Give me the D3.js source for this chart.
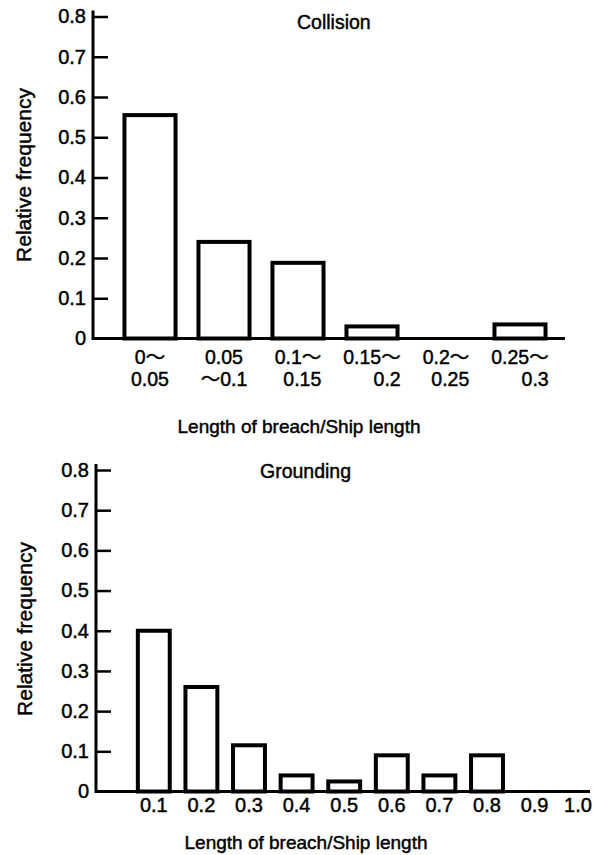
<!DOCTYPE html>
<html>
<head>
<meta charset="utf-8">
<script src="https://cdn.jsdelivr.net/npm/d3@7"></script>
<style>
  body { margin: 0; background: #fff; }
  text { font-family: "Liberation Sans", Arial, "Noto Sans CJK JP", sans-serif; fill: #000;
         stroke: #000; stroke-width: 0.45px; }
</style>
</head>
<body>
<svg id="chart" width="593" height="855"></svg>
<script>
// Collision: breach length ranges (two-line labels) and relative frequencies
const collisionCategories = ["0-0.05", "0.05-0.1", "0.1-0.15", "0.15-0.2", "0.2-0.25", "0.25-0.3"];
const collisionLabelTop = ["0～", "0.05", "0.1～", "0.15～", "0.2～", "0.25～"];
const collisionLabelBottom = ["0.05", "～0.1", "0.15", "0.2", "0.25", "0.3"];
const collisionFreq = [0.555, 0.24, 0.188, 0.03, 0, 0.035];

// Grounding: breach length classes and relative frequencies
const groundingCategories = ["0.1", "0.2", "0.3", "0.4", "0.5", "0.6", "0.7", "0.8", "0.9", "1.0"];
const groundingFreq = [0.40, 0.26, 0.115, 0.04, 0.025, 0.09, 0.04, 0.09, 0, 0];

// Shared y-axis ticks
const yTicks = [0, 0.1, 0.2, 0.3, 0.4, 0.5, 0.6, 0.7, 0.8];

const svg = d3.select("#chart");
const fmt = d => d === 0 ? "0" : d.toFixed(1);

function drawPanel(cfg) {
  const g = svg.append("g");
  const y = d3.scaleLinear().domain([0, 0.8]).range([cfg.yBottom, cfg.yTop]);
  const x = d3.scaleBand()
    .domain(cfg.categories)
    .range(cfg.xRange)
    .paddingInner(cfg.padInner)
    .paddingOuter(cfg.padInner / 2);

  // y axis: ticks point inward, labels on the left
  const ax = g.append("g")
    .attr("transform", `translate(${cfg.axisX},0)`)
    .call(d3.axisLeft(y).tickValues(yTicks).tickFormat(fmt)
      .tickSizeInner(-15).tickSizeOuter(0).tickPadding(7));
  ax.select(".domain").remove();
  ax.selectAll(".tick line").attr("stroke", "#000").attr("stroke-width", 2.5)
    .filter(d => d === 0).remove();
  ax.selectAll(".tick text").style("font-size", "20px").attr("fill", "#000");
  g.append("line")
    .attr("x1", cfg.axisX).attr("x2", cfg.axisX)
    .attr("y1", y(0) + 1.5).attr("y2", y(0.8) - 6)
    .attr("stroke", "#000").attr("stroke-width", 3);

  // bars
  const data = cfg.categories.map((c, i) => ({ c, v: cfg.values[i] })).filter(d => d.v > 0);
  g.selectAll("rect.bar").data(data).join("rect")
    .attr("class", "bar")
    .attr("x", d => x(d.c))
    .attr("y", d => y(d.v))
    .attr("width", x.bandwidth())
    .attr("height", d => y(0) - y(d.v))
    .attr("fill", "#fff")
    .attr("stroke", "#000")
    .attr("stroke-width", 4);

  // baseline
  g.append("line")
    .attr("x1", cfg.axisX).attr("x2", cfg.baselineEnd)
    .attr("y1", y(0)).attr("y2", y(0))
    .attr("stroke", "#000").attr("stroke-width", 3);

  // title
  g.append("text")
    .attr("x", cfg.titleX).attr("y", cfg.titleY)
    .style("font-size", "19.5px")
    .text(cfg.title);

  // axis titles
  g.append("text")
    .attr("x", cfg.xLabelX).attr("y", cfg.xLabelY)
    .attr("text-anchor", "middle")
    .style("font-size", "19px")
    .text("Length of breach/Ship length");
  g.append("text")
    .attr("transform", `translate(${cfg.yLabelX},${cfg.yLabelY}) rotate(-90)`)
    .attr("text-anchor", "middle")
    .style("font-size", "21px")
    .text("Relative frequency");

  return { g, x, y };
}

// Collision panel
const collisionPanel = drawPanel({
  categories: collisionCategories, values: collisionFreq,
  yBottom: 338.5, yTop: 16.5, xRange: [113, 557], padInner: 0.31,
  axisX: 93, baselineEnd: 565,
  title: "Collision", titleX: 297, titleY: 29,
  xLabelX: 299, xLabelY: 433, yLabelX: 31, yLabelY: 175
});
collisionCategories.forEach((c, i) => {
  const cx = collisionPanel.x(c) + collisionPanel.x.bandwidth() / 2;
  const t1 = collisionPanel.g.append("text").attr("x", cx).attr("y", 364)
    .attr("text-anchor", "middle").style("font-size", "19.5px")
    .text(collisionLabelTop[i]);
  const w1 = t1.node().getComputedTextLength();
  const t2 = collisionPanel.g.append("text").attr("y", 386).style("font-size", "19.5px")
    .text(collisionLabelBottom[i]);
  const w2 = t2.node().getComputedTextLength();
  if (w2 < w1 - 6) {
    t2.attr("x", cx + w1 / 2).attr("text-anchor", "end");
  } else {
    t2.attr("x", cx).attr("text-anchor", "middle");
  }
});

// Grounding panel
const groundingPanel = drawPanel({
  categories: groundingCategories, values: groundingFreq,
  yBottom: 791.5, yTop: 470, xRange: [130, 606], padInner: 0.33,
  axisX: 96, baselineEnd: 590,
  title: "Grounding", titleX: 260, titleY: 478,
  xLabelX: 306, xLabelY: 849, yLabelX: 32, yLabelY: 629
});
groundingPanel.g.selectAll("text.xtick").data(groundingCategories).join("text")
  .attr("class", "xtick")
  .attr("x", d => Math.min(groundingPanel.x(d) + groundingPanel.x.bandwidth() / 2, 578))
  .attr("y", 812)
  .attr("text-anchor", "middle")
  .style("font-size", "20px")
  .text(d => d);
</script>
</body>
</html>
